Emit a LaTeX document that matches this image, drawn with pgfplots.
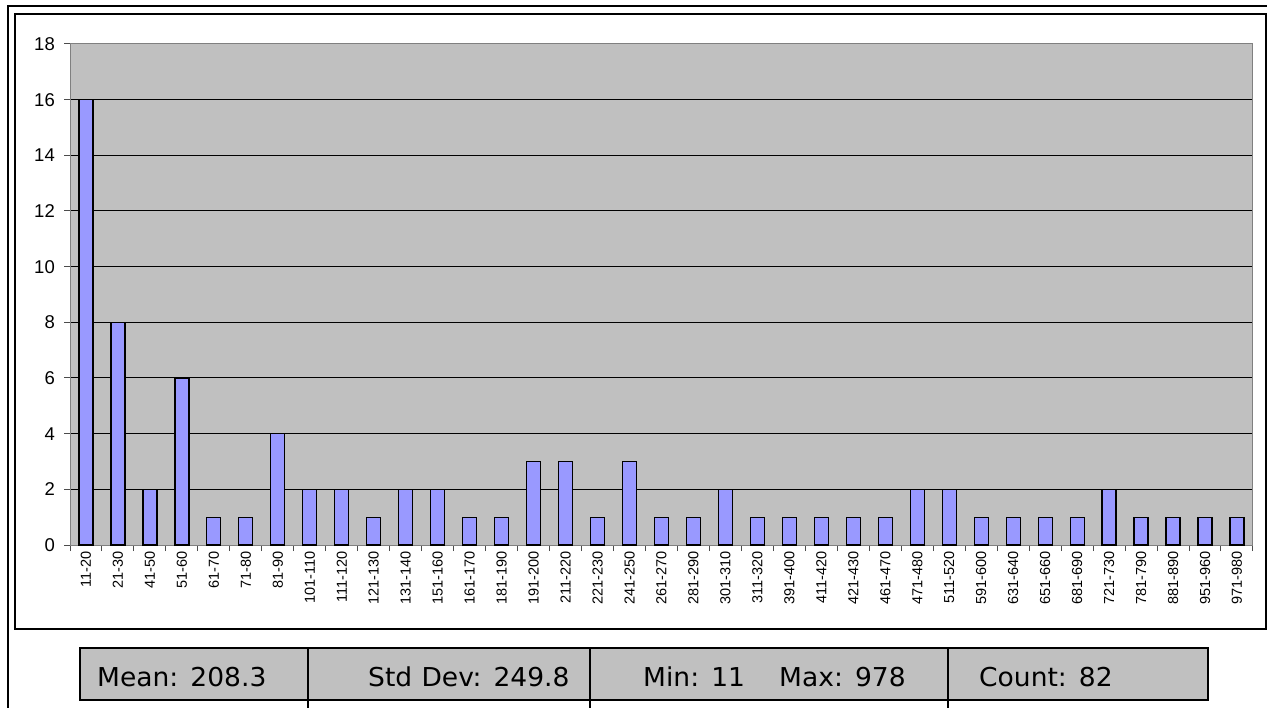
\documentclass[border=0pt]{standalone}
\usepackage{pgfplots}
\pgfplotsset{compat=1.18}
\usepackage{fontspec}
\setmainfont{Liberation Sans}
\newfontfamily\dv[WordSpace=1.1]{DejaVu Sans}
\definecolor{plotbg}{HTML}{C0C0C0}
\definecolor{barc}{HTML}{9999FF}
\definecolor{axgray}{HTML}{808080}
\newcommand{\ylfont}{\fontsize{18.5}{22}\selectfont}
\newcommand{\xlfont}{\fontsize{14.5}{17}\selectfont}
\begin{document}
\begin{tikzpicture}[x=1pt,y=1pt]
\useasboundingbox (0,0) rectangle (1274,707);
% outer frame
\draw[line width=2pt] (8,-2) -- (8,701) -- (1267,701);
% inner chart frame
\draw[line width=2pt] (15,78) rectangle (1266,693);
\begin{axis}[
  at={(70pt,162pt)}, anchor=south west,
  scale only axis, width=1183pt, height=501pt,
  xmin=-0.5, xmax=36.5, ymin=0, ymax=18,
  ytick={0,2,...,18},
  xtick={-0.5,0.5,...,36.5},
  x tick label as interval=true,
  xticklabels={11-20,21-30,41-50,51-60,61-70,71-80,81-90,101-110,111-120,121-130,131-140,151-160,161-170,181-190,191-200,211-220,221-230,241-250,261-270,281-290,301-310,311-320,391-400,411-420,421-430,461-470,471-480,511-520,591-600,631-640,651-660,681-690,721-730,781-790,881-890,951-960,971-980},
  tickpos=left, tick align=outside, major tick length=6pt,
  tick style={black!70, line width=1pt},
  axis background/.style={fill=plotbg},
  axis line style={axgray, line width=1pt},
  ymajorgrids, grid style={black, line width=1pt},
  /pgf/number format/assume math mode=true,
  y tick label style={font=\ylfont, anchor=east, inner sep=0pt, xshift=-9pt},
  x tick label style={font=\xlfont, rotate=90, anchor=east, inner sep=0pt},
  ybar, bar width=14pt,
]
\addplot[fill=barc, draw=black, line width=1.2pt] coordinates {
(0,16) (1,8) (2,2) (3,6) (4,1) (5,1) (6,4) (7,2) (8,2) (9,1)
(10,2) (11,2) (12,1) (13,1) (14,3) (15,3) (16,1) (17,3) (18,1) (19,1)
(20,2) (21,1) (22,1) (23,1) (24,1) (25,1) (26,2) (27,2) (28,1) (29,1)
(30,1) (31,1) (32,2) (33,1) (34,1) (35,1) (36,1)};
\end{axis}
% stats table
\fill[plotbg] (80,7) rectangle (1208,59);
\draw[line width=2pt] (80,7) rectangle (1208,59);
\foreach \xx in {308,590,948} \draw[line width=1.5pt] (\xx,59) -- (\xx,-2);
\begin{scope}[every node/.style={anchor=base west, inner sep=0pt, xscale=1.02, font=\dv\fontsize{26}{30}\selectfont}]
\node at (97,21) {Mean: 208.3};
\node at (368,21) {Std Dev: 249.8};
\node at (643,21) {Min: 11};
\node at (779,21) {Max: 978};
\node at (979,21) {Count: 82};
\end{scope}
\end{tikzpicture}
\end{document}
